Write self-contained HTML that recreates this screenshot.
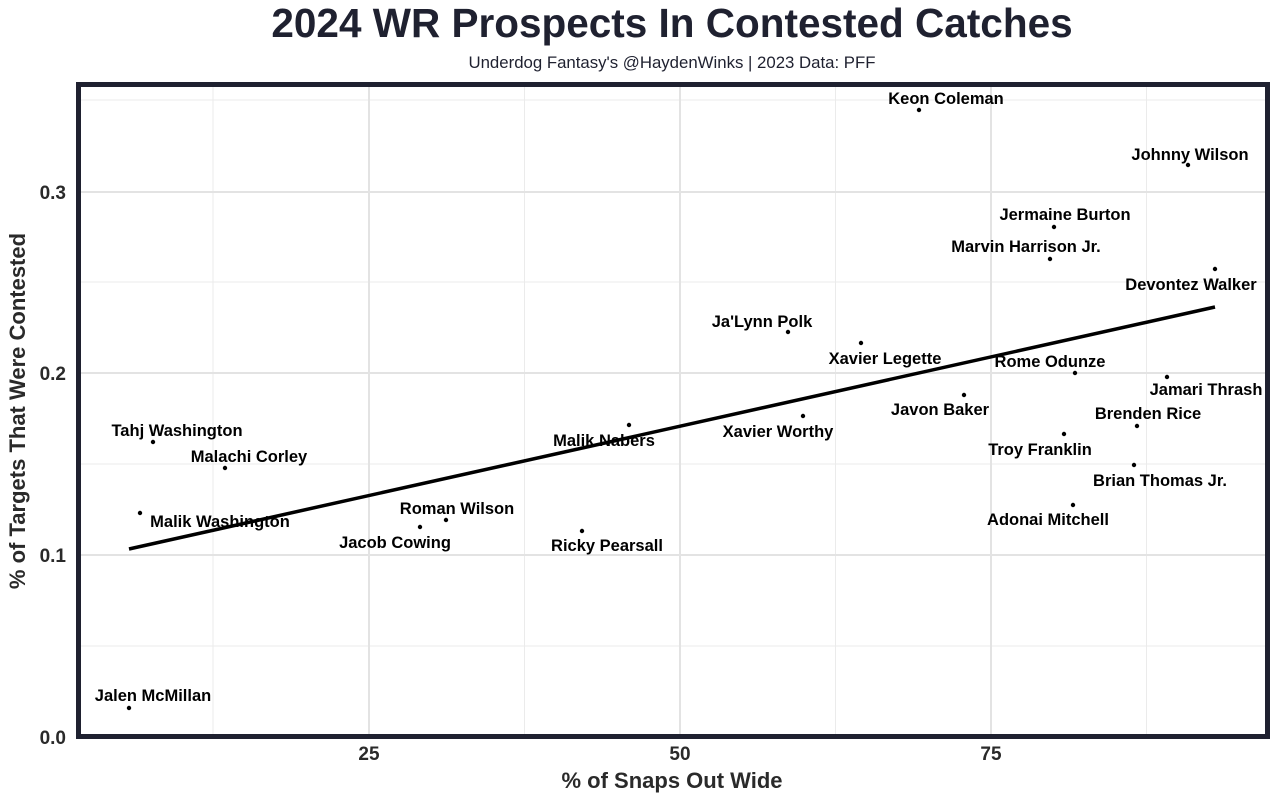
<!DOCTYPE html>
<html><head><meta charset="utf-8"><style>
body{margin:0;background:#fff;}
svg text{font-family:"Liberation Sans",Arial,sans-serif;}
</style></head><body>
<svg width="1280" height="803" xmlns="http://www.w3.org/2000/svg">
<rect width="1280" height="803" fill="#fff"/>
<text x="672" y="37" text-anchor="middle" font-size="40.5" font-weight="bold" fill="#1f2130">2024 WR Prospects In Contested Catches</text>
<text x="672" y="68" text-anchor="middle" font-size="16.8" fill="#1f2130">Underdog Fantasy's @HaydenWinks | 2023 Data: PFF</text>
<g stroke="#ebebeb" stroke-width="1">
<line x1="78" x2="1268" y1="646" y2="646"/><line x1="78" x2="1268" y1="464" y2="464"/><line x1="78" x2="1268" y1="282" y2="282"/><line x1="78" x2="1268" y1="100" y2="100"/>
<line y1="84" y2="736" x1="213" x2="213"/><line y1="84" y2="736" x1="524.5" x2="524.5"/><line y1="84" y2="736" x1="835.5" x2="835.5"/><line y1="84" y2="736" x1="1146.5" x2="1146.5"/>
</g>
<g stroke="#e3e3e3" stroke-width="2">
<line x1="78" x2="1268" y1="555" y2="555"/><line x1="78" x2="1268" y1="373" y2="373"/><line x1="78" x2="1268" y1="192" y2="192"/>
<line y1="84" y2="736" x1="369" x2="369"/><line y1="84" y2="736" x1="680" x2="680"/><line y1="84" y2="736" x1="991" x2="991"/>
</g>
<line x1="129" y1="549" x2="1215" y2="307" stroke="#000" stroke-width="3.5"/>
<g fill="#000">
<circle cx="919" cy="110" r="2.2"/><circle cx="1188" cy="165" r="2.2"/><circle cx="1054" cy="227" r="2.2"/><circle cx="1050" cy="259" r="2.2"/><circle cx="1215" cy="269" r="2.2"/><circle cx="788" cy="332" r="2.2"/><circle cx="861" cy="343" r="2.2"/><circle cx="1075" cy="373" r="2.2"/><circle cx="1167" cy="377" r="2.2"/><circle cx="964" cy="395" r="2.2"/><circle cx="803" cy="416" r="2.2"/><circle cx="629" cy="425" r="2.2"/><circle cx="1137" cy="426" r="2.2"/><circle cx="1064" cy="434" r="2.2"/><circle cx="153" cy="442" r="2.2"/><circle cx="225" cy="468" r="2.2"/><circle cx="1134" cy="465" r="2.2"/><circle cx="1073" cy="505" r="2.2"/><circle cx="140" cy="513" r="2.2"/><circle cx="446" cy="520" r="2.2"/><circle cx="420" cy="527" r="2.2"/><circle cx="582" cy="531" r="2.2"/><circle cx="129" cy="708" r="2.2"/>
</g>
<g font-size="16.5" font-weight="bold" fill="#000" text-anchor="middle">
<text x="946" y="104">Keon Coleman</text>
<text x="1190" y="160">Johnny Wilson</text>
<text x="1065" y="220">Jermaine Burton</text>
<text x="1026" y="252">Marvin Harrison Jr.</text>
<text x="1191" y="290">Devontez Walker</text>
<text x="762" y="327">Ja'Lynn Polk</text>
<text x="885" y="364">Xavier Legette</text>
<text x="1050" y="367">Rome Odunze</text>
<text x="1206" y="395">Jamari Thrash</text>
<text x="940" y="415">Javon Baker</text>
<text x="778" y="437">Xavier Worthy</text>
<text x="604" y="446">Malik Nabers</text>
<text x="1148" y="419">Brenden Rice</text>
<text x="1040" y="455">Troy Franklin</text>
<text x="177" y="436">Tahj Washington</text>
<text x="249" y="462">Malachi Corley</text>
<text x="1160" y="486">Brian Thomas Jr.</text>
<text x="1048" y="525">Adonai Mitchell</text>
<text x="220" y="527">Malik Washington</text>
<text x="457" y="514">Roman Wilson</text>
<text x="395" y="548">Jacob Cowing</text>
<text x="607" y="551">Ricky Pearsall</text>
<text x="153" y="701">Jalen McMillan</text>
</g>
<rect x="78.5" y="84.5" width="1189" height="652" fill="none" stroke="#1f2130" stroke-width="5"/>
<g font-size="19" font-weight="bold" fill="#2a2a2a" text-anchor="end">
<text x="66" y="744">0.0</text><text x="66" y="562">0.1</text><text x="66" y="380">0.2</text><text x="66" y="199">0.3</text>
</g>
<g font-size="19" font-weight="bold" fill="#2a2a2a" text-anchor="middle">
<text x="369" y="760">25</text><text x="680" y="760">50</text><text x="991" y="760">75</text>
</g>
<text x="672" y="788" text-anchor="middle" font-size="22" font-weight="bold" fill="#2a2a2a">% of Snaps Out Wide</text>
<text transform="translate(25,411) rotate(-90)" text-anchor="middle" font-size="22" font-weight="bold" fill="#2a2a2a">% of Targets That Were Contested</text>
</svg>
</body></html>
